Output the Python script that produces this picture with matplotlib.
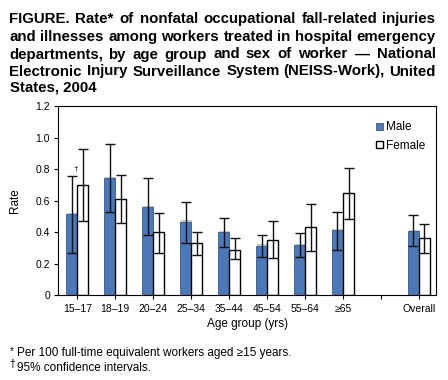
import matplotlib
matplotlib.use("Agg")
import matplotlib.pyplot as plt
import numpy as np
from matplotlib.textpath import TextPath
from matplotlib.font_manager import FontProperties, findfont, get_font

plt.rcParams['font.family'] = ['Liberation Sans', 'DejaVu Sans']

categories = ["15\u201317", "18\u201319", "20\u201324", "25\u201334", "35\u201344",
              "45\u201354", "55\u201364", "\u226565", "", "Overall"]
male = [0.515, 0.744, 0.558, 0.467, 0.401, 0.315, 0.319, 0.414, None, 0.408]
male_lo = [0.27, 0.526, 0.38, 0.33, 0.304, 0.241, 0.241, 0.29, None, 0.313]
male_hi = [0.756, 0.957, 0.742, 0.593, 0.492, 0.384, 0.393, 0.53, None, 0.507]
female = [0.70, 0.608, 0.401, 0.33, 0.29, 0.349, 0.431, 0.647, None, 0.361]
female_lo = [0.473, 0.456, 0.27, 0.254, 0.228, 0.234, 0.281, 0.482, None, 0.27]
female_hi = [0.927, 0.76, 0.52, 0.40, 0.365, 0.469, 0.577, 0.805, None, 0.45]
yticks = [0, 0.2, 0.4, 0.6, 0.8, 1.0, 1.2]
ytick_labels = ["0", "0.2", "0.4", "0.6", "0.8", "1.0", "1.2"]
title_lines = [
    "FIGURE. Rate* of nonfatal occupational fall-related injuries",
    "and illnesses among workers treated in hospital emergency",
    "departments, by age group and sex of worker \u2014 National",
    "Electronic Injury Surveillance System (NEISS-Work), United",
    "States, 2004",
]

W, H = 448, 380
DPI = 100
fig = plt.figure(figsize=(4.48, 3.8), dpi=DPI)
ax = fig.add_axes([58.3/W, 1 - 295.3/H, (436-58.3)/W, (295.3-106)/H])

idx = [i for i, v in enumerate(male) if v is not None]
x = np.array(idx, dtype=float)
w = 0.29
m = np.array([male[i] for i in idx]); f = np.array([female[i] for i in idx])
mlo = np.array([male_lo[i] for i in idx]); mhi = np.array([male_hi[i] for i in idx])
flo = np.array([female_lo[i] for i in idx]); fhi = np.array([female_hi[i] for i in idx])

blue = "#4a78b8"
ax.bar(x - w/2 + 0.03, m + 0.008, width=w, color="#c8c8c8", edgecolor="none", zorder=1)
ax.bar(x - w/2, m, width=w, color=blue, edgecolor="#3a5a88", linewidth=0.6, zorder=2, label="Male")
ax.bar(x + w/2, f, width=w, color="white", edgecolor="black", linewidth=1.0, zorder=2, label="Female")
ax.errorbar(x - w/2, m, yerr=[m - mlo, mhi - m], fmt="none", ecolor="#111111",
            elinewidth=1.0, capsize=3.5, capthick=1.0, zorder=3)
ax.errorbar(x + w/2, f, yerr=[f - flo, fhi - f], fmt="none", ecolor="#111111",
            elinewidth=1.0, capsize=3.5, capthick=1.0, zorder=3)

ax.text(-0.04, 0.795, "\u2020", ha="center", va="center", fontsize=6)

ax.set_xlim(-0.5, 9.45)
ax.set_ylim(0, 1.2)
ax.set_xticks(range(len(categories)))
ax.set_xticklabels(categories, fontsize=7.5)
ax.set_yticks(yticks)
ax.set_yticklabels(ytick_labels, fontsize=7.5)
ax.tick_params(axis="both", length=3, width=0.8, color="black", pad=3)
for s in ax.spines.values():
    s.set_linewidth(0.8)
ax.set_xlabel("Age group (yrs)", fontsize=8.5, labelpad=3)
ax.set_ylabel("Rate", fontsize=8.5, labelpad=10)

ax.legend(loc="upper right", bbox_to_anchor=(1.0, 0.975), frameon=False, fontsize=8.5,
          handlelength=0.55, handleheight=0.55, handletextpad=0.3, labelspacing=0.55)

# justified bold title: measure each word's rendered ink extent (pixels, relative to pen origin)
left_px, right_px = 10, 435
baselines = [23, 41, 58.5, 75.5, 92]
tsize = 10.8
fp = FontProperties(family="Liberation Sans", weight="bold", size=tsize)
tprops = dict(fontsize=tsize, fontweight="bold", va="baseline", ha="left",
              family="Liberation Sans")


def ink_textpath(s):
    verts = TextPath((0, 0), s, size=tsize, prop=fp).vertices
    return verts[:, 0].min() * DPI / 72.0, verts[:, 0].max() * DPI / 72.0


def ink(s):
    try:
        from matplotlib.backends.backend_agg import get_hinting_flag
        font = get_font(findfont(fp))
        font.clear()
        font.set_size(tsize, DPI)
        font.set_text(s, 0.0, flags=get_hinting_flag())
        font.draw_glyphs_to_bitmap(antialiased=True)
        img = np.asarray(font.get_image())
        cols = np.nonzero(img.max(axis=0) > 60)[0]
        xo = font.get_bitmap_offset()[0] / 64.0
        if len(cols) == 0:
            return ink_textpath(s)
        return xo + cols[0], xo + cols[-1] + 1
    except Exception:
        return ink_textpath(s)


for li, line in enumerate(title_lines):
    yb = 1 - baselines[li] / H
    if li == len(title_lines) - 1:
        fig.text(left_px / W, yb, line, **tprops)
        continue
    words = line.split(" ")
    exts = [ink(wd) for wd in words]
    wsum = sum(b - a for a, b in exts)
    gap = (right_px - left_px - wsum) / (len(words) - 1)
    xi = left_px
    for wd, (a, b) in zip(words, exts):
        fig.text((xi - a) / W, yb, wd, **tprops)
        xi += (b - a) + gap

fig.text(10/W, 1 - 346/H, "*", ha="left", va="top", fontsize=7)
fig.text(17/W, 1 - 347/H, "Per 100 full-time equivalent workers aged \u226515 years.",
         ha="left", va="top", fontsize=8.5)
fig.text(9/W, 1 - 359/H, "\u2020", ha="left", va="top", fontsize=7.5)
fig.text(17/W, 1 - 362/H, "95% confidence intervals.", ha="left", va="top", fontsize=8.5)

fig.savefig("out.png", dpi=DPI)
